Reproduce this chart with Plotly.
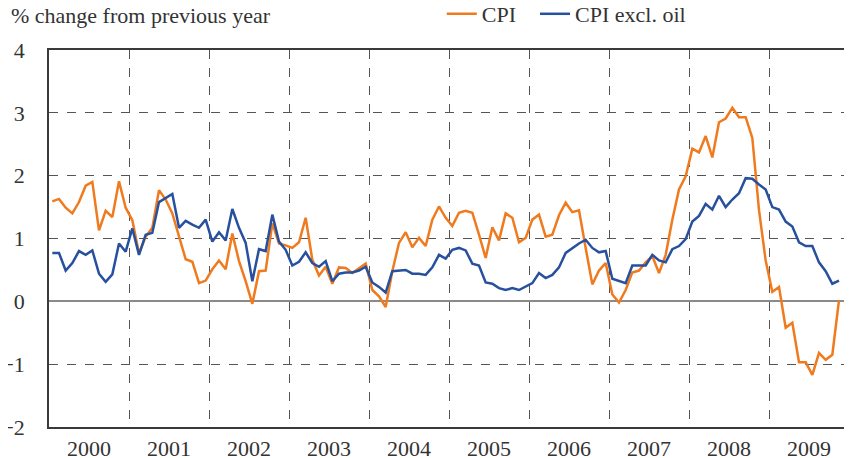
import plotly.graph_objects as go

years = [str(y) for y in range(2000, 2010)]

cpi = [1.59, 1.63, 1.49, 1.40, 1.58, 1.84, 1.90, 1.13, 1.44, 1.34, 1.91, 1.49,
       1.29, 0.76, 1.03, 1.17, 1.77, 1.62, 1.40, 1.05, 0.67, 0.63, 0.29, 0.33,
       0.51, 0.65, 0.51, 1.08, 0.64, 0.32, -0.04, 0.48, 0.49, 1.24, 0.92, 0.89,
       0.85, 0.94, 1.33, 0.66, 0.41, 0.55, 0.28, 0.54, 0.53, 0.45, 0.53, 0.60,
       0.18, 0.08, -0.09, 0.48, 0.93, 1.10, 0.86, 1.01, 0.88, 1.30, 1.51, 1.33,
       1.20, 1.41, 1.44, 1.41, 1.06, 0.69, 1.18, 0.97, 1.40, 1.33, 0.94, 1.01,
       1.30, 1.38, 1.03, 1.06, 1.37, 1.57, 1.42, 1.45, 0.85, 0.27, 0.49, 0.61,
       0.11, -0.02, 0.18, 0.46, 0.49, 0.62, 0.72, 0.45, 0.74, 1.30, 1.78, 1.99,
       2.43, 2.37, 2.63, 2.29, 2.85, 2.91, 3.08, 2.93, 2.93, 2.60, 1.45, 0.65,
       0.15, 0.23, -0.42, -0.34, -0.97, -0.97, -1.17, -0.82, -0.93, -0.85, 0.02]

cpi_ex_oil = [0.77, 0.77, 0.49, 0.61, 0.80, 0.74, 0.81, 0.44, 0.31, 0.43, 0.92, 0.79,
              1.16, 0.74, 1.06, 1.09, 1.58, 1.64, 1.71, 1.17, 1.28, 1.22, 1.17, 1.30,
              0.95, 1.10, 0.97, 1.47, 1.17, 0.93, 0.32, 0.83, 0.80, 1.38, 0.95, 0.82,
              0.57, 0.63, 0.78, 0.61, 0.55, 0.64, 0.32, 0.44, 0.46, 0.46, 0.49, 0.55,
              0.30, 0.23, 0.14, 0.48, 0.49, 0.50, 0.44, 0.44, 0.42, 0.54, 0.74, 0.68,
              0.82, 0.85, 0.81, 0.60, 0.57, 0.30, 0.28, 0.21, 0.18, 0.21, 0.18, 0.23,
              0.29, 0.45, 0.37, 0.42, 0.54, 0.77, 0.85, 0.92, 0.98, 0.85, 0.78, 0.80,
              0.36, 0.32, 0.29, 0.57, 0.57, 0.57, 0.74, 0.65, 0.62, 0.83, 0.88, 0.99,
              1.27, 1.36, 1.55, 1.46, 1.68, 1.50, 1.62, 1.72, 1.96, 1.95, 1.86, 1.78,
              1.50, 1.46, 1.27, 1.19, 0.94, 0.88, 0.88, 0.62, 0.48, 0.28, 0.33]

months = list(range(len(cpi)))
n_years = len(years)
year_centers = [12 * k + 5.5 for k in range(n_years)]
year_bounds = [12 * k - 0.5 for k in range(n_years + 1)]

FONT = "Liberation Serif"
FS = 22
ORANGE = "#F07A1E"
BLUE = "#27509E"
GRID = "#555555"
TXT = "#333333"

# page body has an 8px default margin; the figure is sized to fill the window
W, H = 844, 450

fig = go.Figure()
fig.add_trace(go.Scatter(x=months, y=cpi, mode="lines", name="CPI",
                         line=dict(color=ORANGE, width=2.5), legend="legend"))
fig.add_trace(go.Scatter(x=months, y=cpi_ex_oil, mode="lines", name="CPI excl. oil",
                         line=dict(color=BLUE, width=2.5), legend="legend2"))

legend_common = dict(orientation="h", xanchor="left", y=1.0955, yanchor="middle",
                     font=dict(family=FONT, size=FS, color=TXT),
                     bgcolor="rgba(0,0,0,0)", borderwidth=0)

fig.update_layout(
    width=W, height=H,
    margin=dict(l=41, r=3, t=42, b=31, autoexpand=False),
    paper_bgcolor="white", plot_bgcolor="white",
    font=dict(family=FONT, size=FS, color=TXT),
    title=dict(text="% change from previous year", x=3 / W, xanchor="left",
               xref="container", y=1.0, yref="container", yanchor="top",
               pad=dict(l=0, r=0, t=0, b=0),
               font=dict(family=FONT, size=FS, color=TXT)),
    legend=dict(x=0.491, **legend_common),
    legend2=dict(x=0.6075, **legend_common),
    showlegend=True,
)

fig.update_xaxes(
    range=[-0.5, 119.5], automargin=False,
    tickmode="array", tickvals=year_centers, ticktext=years,
    showgrid=False, zeroline=False,
    ticks="", ticklabelstandoff=1,
    showline=True, linecolor="#3a3a3a", linewidth=1.5, mirror=True,
    minor=dict(tickmode="array", tickvals=year_bounds, showgrid=True,
               griddash="dash", gridcolor=GRID, gridwidth=1, ticks=""),
)

fig.update_yaxes(
    range=[-2, 4], automargin=False, tickmode="linear", tick0=-2, dtick=1,
    showgrid=True, griddash="dash", gridcolor=GRID, gridwidth=1,
    zeroline=True, zerolinecolor="#8a8a8a", zerolinewidth=1.5,
    ticks="", ticklabelstandoff=18,
    showline=True, linecolor="#3a3a3a", linewidth=1.5, mirror=True,
)

fig.write_html("out.html")
